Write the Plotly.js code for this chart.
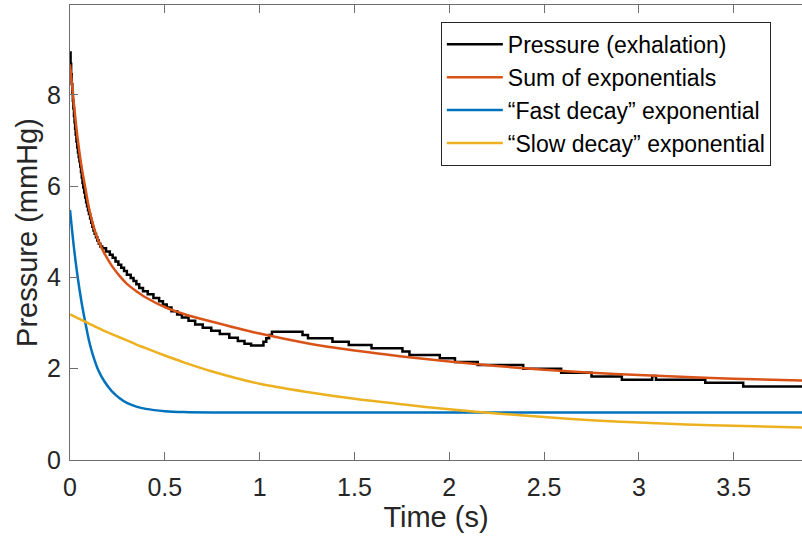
<!DOCTYPE html>
<html>
<head>
<meta charset="utf-8">
<script src="https://cdn.plot.ly/plotly-3.0.1.min.js"></script>
<style>
  html, body { margin: 0; padding: 0; background: #fff; }
  #chart { width: 802px; height: 541px; }
</style>
</head>
<body>
<div id="chart"></div>
<script>
// ---- Data ----
// Measured pressure during exhalation (step-wise sensor signal)
const pressureTime = [
  0.000, 0.003, 0.006, 0.009, 0.012, 0.015, 0.018, 0.021, 0.024, 0.027,
  0.030, 0.034, 0.038, 0.042, 0.046, 0.050, 0.054, 0.058, 0.062, 0.066,
  0.070, 0.075, 0.080, 0.085, 0.090, 0.095, 0.100, 0.106, 0.112, 0.118,
  0.124, 0.130, 0.137, 0.144, 0.152, 0.160, 0.170, 0.190, 0.210, 0.225,
  0.240, 0.255, 0.270, 0.285, 0.300, 0.320, 0.335, 0.350, 0.365, 0.385,
  0.410, 0.440, 0.470, 0.490, 0.510, 0.535, 0.565, 0.590, 0.625, 0.660,
  0.700, 0.745, 0.790, 0.840, 0.885, 0.920, 0.955, 1.020, 1.035, 1.050,
  1.065, 1.226, 1.255, 1.384, 1.470, 1.590, 1.753, 1.790, 1.950, 2.030,
  2.150, 2.390, 2.590, 2.750, 2.910, 3.070, 3.090, 3.350, 3.550, 3.860
];
const pressureValue = [
  8.93, 8.68, 8.45, 8.24, 8.05, 7.87, 7.70, 7.54, 7.40, 7.26,
  7.13, 6.98, 6.85, 6.74, 6.64, 6.54, 6.43, 6.31, 6.19, 6.07,
  5.97, 5.86, 5.75, 5.65, 5.56, 5.47, 5.39, 5.29, 5.20, 5.11,
  5.03, 4.96, 4.88, 4.81, 4.74, 4.68, 4.64, 4.57, 4.50, 4.43,
  4.35, 4.28, 4.21, 4.14, 4.06, 3.99, 3.92, 3.85, 3.77, 3.70,
  3.63, 3.55, 3.48, 3.41, 3.34, 3.26, 3.19, 3.12, 3.05, 2.97,
  2.90, 2.83, 2.76, 2.68, 2.61, 2.55, 2.51, 2.59, 2.67, 2.74,
  2.81, 2.74, 2.67, 2.59, 2.52, 2.45, 2.38, 2.30, 2.23, 2.15,
  2.08, 2.00, 1.91, 1.83, 1.76, 1.84, 1.76, 1.69, 1.61, 1.61
];

// Fitted curves (time grid + values)
const fitTime = [
  0.00, 0.02, 0.04, 0.06, 0.08, 0.10, 0.12, 0.15, 0.18, 0.22,
  0.26, 0.30, 0.35, 0.40, 0.50, 0.60, 0.75, 1.00, 1.25, 1.50,
  1.75, 2.00, 2.25, 2.50, 2.75, 3.00, 3.25, 3.50, 3.86
];
const sumValue = [
  8.67, 7.83, 7.05, 6.45, 5.98, 5.52, 5.18, 4.80, 4.54, 4.26,
  4.04, 3.86, 3.70, 3.56, 3.35, 3.20, 3.03, 2.77, 2.56, 2.40,
  2.27, 2.16, 2.06, 1.98, 1.91, 1.86, 1.82, 1.78, 1.74
];
const fastValue = [
  5.48, 4.68, 4.02, 3.48, 3.03, 2.62, 2.31, 1.96, 1.73, 1.51,
  1.36, 1.25, 1.17, 1.12, 1.07, 1.05, 1.04, 1.04, 1.04, 1.04,
  1.04, 1.04, 1.04, 1.04, 1.04, 1.04, 1.04, 1.04, 1.04
];
const slowValue = [
  3.19, 3.15, 3.11, 3.07, 3.03, 2.99, 2.95, 2.89, 2.83, 2.76,
  2.69, 2.62, 2.53, 2.45, 2.29, 2.14, 1.94, 1.67, 1.49, 1.34,
  1.22, 1.11, 1.02, 0.94, 0.87, 0.82, 0.78, 0.75, 0.71
];

const seriesNames = [
  'Pressure (exhalation)',
  'Sum of exponentials',
  '\u201CFast decay\u201D exponential',
  '\u201CSlow decay\u201D exponential'
];

const xTicks = [0, 0.5, 1, 1.5, 2, 2.5, 3, 3.5];
const xTickText = ['0', '0.5', '1', '1.5', '2', '2.5', '3', '3.5'];
const yTicks = [0, 2, 4, 6, 8];
const yTickText = ['0', '2', '4', '6', '8'];

// ---- Styling ----
const FONT = '"Liberation Sans", Arial, Helvetica, sans-serif';
const LW = 2.5;

const traces = [
  { x: pressureTime, y: pressureValue, name: seriesNames[0], mode: 'lines',
    line: { color: '#000000', width: LW, shape: 'hv' } },
  { x: fitTime, y: sumValue, name: seriesNames[1], mode: 'lines',
    line: { color: '#D95319', width: LW, shape: 'spline', smoothing: 0.8 } },
  { x: fitTime, y: fastValue, name: seriesNames[2], mode: 'lines',
    line: { color: '#0072BD', width: LW, shape: 'spline', smoothing: 0.8 } },
  { x: fitTime, y: slowValue, name: seriesNames[3], mode: 'lines',
    line: { color: '#EDB120', width: LW, shape: 'spline', smoothing: 0.8 } }
];

const layout = {
  width: 802, height: 541,
  margin: { l: 70, r: 0, t: 5, b: 81, pad: 0 },
  paper_bgcolor: '#ffffff', plot_bgcolor: '#ffffff',
  font: { family: FONT, size: 24, color: '#262626' },
  showlegend: true,
  xaxis: {
    range: [0, 3.86], tickvals: xTicks, ticktext: xTickText,
    ticks: 'inside', ticklen: 8, tickwidth: 1, tickcolor: '#6e6e6e',
    showline: true, linecolor: '#6e6e6e', linewidth: 1, mirror: 'ticks',
    showgrid: false, zeroline: false, ticklabelstandoff: 5,
    tickfont: { family: FONT, size: 25, color: '#262626' },
    title: { text: 'Time (s)', font: { family: FONT, size: 29, color: '#262626' }, standoff: 6 }
  },
  yaxis: {
    range: [0, 9.97], tickvals: yTicks, ticktext: yTickText,
    ticks: 'inside', ticklen: 8, tickwidth: 1, tickcolor: '#6e6e6e',
    showline: true, linecolor: '#6e6e6e', linewidth: 1, mirror: false,
    showgrid: false, zeroline: false, ticklabelstandoff: 3,
    tickfont: { family: FONT, size: 25, color: '#262626' },
    title: { text: 'Pressure (mmHg)', font: { family: FONT, size: 29, color: '#262626' }, standoff: 0 }
  },
  legend: {
    x: 0.5066, y: 0.963, xanchor: 'left', yanchor: 'top',
    bgcolor: '#ffffff', bordercolor: '#262626', borderwidth: 1,
    font: { family: FONT, size: 23, color: '#000000' },
    tracegroupgap: 0, itemwidth: 56, entrywidth: 355, entrywidthmode: 'pixels'
  }
};

Plotly.newPlot('chart', traces, layout, { staticPlot: true, displayModeBar: false });
</script>
</body>
</html>
